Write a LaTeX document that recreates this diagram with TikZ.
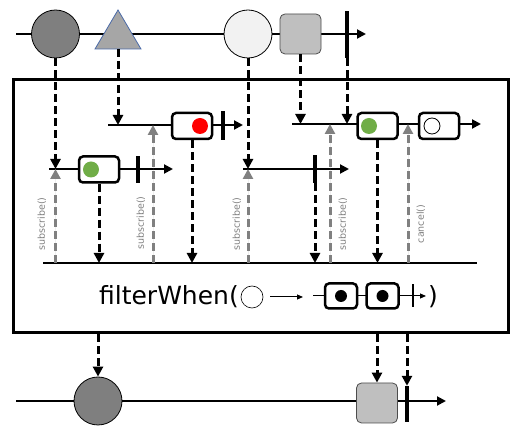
\documentclass[tikz,border=0pt]{standalone}
\usepackage{fontspec}
\setmainfont{DejaVu Sans}
\usetikzlibrary{arrows.meta}

\definecolor{mdark}{HTML}{7F7F7F}
\definecolor{mlight}{HTML}{F2F2F2}
\definecolor{msquare}{HTML}{BFBFBF}
\definecolor{mtri}{HTML}{A6A6A6}
\definecolor{mtriedge}{HTML}{4A6AA8}
\definecolor{mgreen}{HTML}{70AD47}
\definecolor{mred}{HTML}{FF0000}
\definecolor{reqgray}{HTML}{808080}

\tikzset{
  marble/.style={circle, draw=black, line width=0.8pt, minimum size=48pt, inner sep=0pt},
  sqmarble/.style={draw=black!70, line width=0.8pt, fill=msquare, rounded corners=5pt,
    minimum width=41pt, minimum height=40pt, inner sep=0pt},
  endbar/.style={fill=black, minimum width=3.5pt, inner sep=0pt},
  evbox/.style={draw, fill=white, line width=2.5pt, rounded corners=4pt,
    minimum width=40pt, minimum height=26pt, inner sep=0pt},
  dot/.style={circle, minimum size=16pt, inner sep=0pt},
  flow/.style={line width=2pt, -{Triangle[length=9pt, width=9pt]}},
  emit/.style={line width=3pt, dash pattern=on 8pt off 4pt, -{Triangle[length=10pt, width=10pt]}},
  req/.style={emit, draw=reqgray, fill=reqgray},
  reqlabel/.style={rotate=90, text=reqgray, font=\fontsize{9.5}{10}\selectfont}
}

\begin{document}
\begin{tikzpicture}[x=1pt, y=-1pt]
  \useasboundingbox (0,0) rectangle (523,438);

  % source
  \coordinate (src0) at (16,34);
  \coordinate (src1) at (366,34);
  \draw[flow] (src0) -- (src1);
  \node[marble, fill=mdark]  (a) at (55.5,34) {};
  \draw[mtriedge, fill=mtri, line width=0.8pt] (95,49) -- (118,10) -- (141,49) -- cycle;
  \coordinate (b) at (118,49);
  \node[marble, fill=mlight] (c) at (248,34) {};
  \node[sqmarble]            (d) at (300.5,34) {};
  \node[endbar, minimum height=47pt] (e) at (347,34.5) {};

  % operator
  \node[draw, line width=3pt, minimum width=495pt, minimum height=253pt, inner sep=0pt]
    (op) at (260.5,206.5) {};

  % inner 1 (triangle)
  \coordinate (i1s) at (108,125);
  \coordinate (i1e) at (243,125);
  \draw[flow] (i1s) -- (i1e);
  \node[evbox] (r1) at (192,126) {};
  \node[dot, fill=mred] (r1dot) at (200,126) {};
  \node[endbar, minimum height=29pt] (r1end) at (223,125.5) {};

  % inner 2 (dark circle)
  \coordinate (i2s) at (49,169);
  \coordinate (i2e) at (173,169);
  \draw[flow] (i2s) -- (i2e);
  \node[evbox] (g1) at (99,169.5) {};
  \node[dot, fill=mgreen] (g1dot) at (91,169.5) {};
  \node[endbar, minimum height=27pt] (g1end) at (138,169.5) {};

  % inner 3 (light circle)
  \coordinate (i3s) at (243,169);
  \coordinate (i3e) at (349,169);
  \draw[flow] (i3s) -- (i3e);
  \node[endbar, minimum height=28pt] (i3end) at (315,169) {};

  % inner 4 (square, completion)
  \coordinate (i4s) at (292,124);
  \coordinate (i4e) at (481,124);
  \draw[flow] (i4s) -- (i4e);
  \node[evbox] (g2) at (377.5,126) {};
  \node[dot, fill=mgreen] (g2dot) at (369,126) {};
  \node[evbox] (w1) at (439,126) {};
  \node[dot, draw=black, line width=0.8pt, fill=white] (w1dot) at (432,126) {};

  % merged
  \coordinate (m0) at (43,263);
  \coordinate (m1) at (477,263);
  \draw[line width=2.5pt] (m0) -- (m1);

  % into the inner sources
  \draw[emit] (a.south) -- (a.south |- i2s);
  \draw[emit] (b) -- (b |- i1s);
  \draw[emit] (c.south) -- (c.south |- i3s);
  \draw[emit] (d.south) -- (d.south |- i4s);
  \draw[emit] (e.south) -- (e.south |- i4s);

  % out of the inner sources
  \draw[emit] (g1.south) -- (g1.south |- m0);
  \draw[emit] (r1.south) -- (r1.south |- m0);
  \draw[emit] (i3end.south) -- (i3end.south |- m0);
  \draw[emit] (g2.south) -- (g2.south |- m0);

  % requests
  \coordinate (q1) at (55.5,263);
  \coordinate (q2) at (153,263);
  \coordinate (q3) at (248,263);
  \coordinate (q4) at (330,263);
  \coordinate (q5) at (408,263);
  \draw[req] (q1) -- (q1 |- i2s);
  \draw[req] (q2) -- (q2 |- i1s);
  \draw[req] (q3) -- (q3 |- i3s);
  \draw[req] (q4) -- (q4 |- i4s);
  \draw[req] (q5) -- (q5 |- i4s);
  \node[reqlabel] (s1) at (42,224) {subscribe()};
  \node[reqlabel] (s2) at (141,223) {subscribe()};
  \node[reqlabel] (s3) at (237,224) {subscribe()};
  \node[reqlabel] (s4) at (343,224) {subscribe()};
  \node[reqlabel] (s5) at (421,224) {cancel()};

  % operator label
  \node[anchor=east, inner sep=0pt, font=\fontsize{25}{28}\selectfont] (fname) at (239,297) {filterWhen(};
  \node[circle, draw, line width=0.6pt, minimum size=22pt, inner sep=0pt] (fin) at (252,297) {};
  \coordinate (farr0) at (270,297);
  \coordinate (farr1) at (303,297);
  \draw[line width=1pt, -{Triangle[length=6pt, width=5pt]}] (farr0) -- (farr1);
  \coordinate (fout0) at (313,296);
  \coordinate (fout1) at (426,296);
  \draw[line width=1pt, -{Triangle[length=6pt, width=5pt]}] (fout0) -- (fout1);
  \node[evbox, minimum width=32pt, minimum height=25pt] (fb1) at (341,296) {};
  \node[dot, fill=black, minimum size=12pt] (fb1dot) at (341,296) {};
  \node[evbox, minimum width=32pt, minimum height=25pt] (fb2) at (382.5,296) {};
  \node[dot, fill=black, minimum size=12pt] (fb2dot) at (382.5,296) {};
  \node[fill=black, minimum width=1.2pt, minimum height=23pt, inner sep=0pt] (fend) at (413,296) {};
  \node[anchor=west, inner sep=0pt, font=\fontsize{25}{28}\selectfont] (fclose) at (428,297) {)};

  % result
  \coordinate (res0) at (16,401);
  \coordinate (res1) at (446,401);
  \draw[flow] (res0) -- (res1);
  \node[marble, fill=mdark] (ra) at (98,401) {};
  \node[sqmarble] (rd) at (377,403) {};
  \node[endbar, minimum height=36pt] (re) at (407,404) {};
  \draw[emit] (ra.north |- op.south) -- (ra.north);
  \draw[emit] (rd.north |- op.south) -- (rd.north);
  \draw[emit] (re.north |- op.south) -- (re.north);
\end{tikzpicture}
\end{document}
